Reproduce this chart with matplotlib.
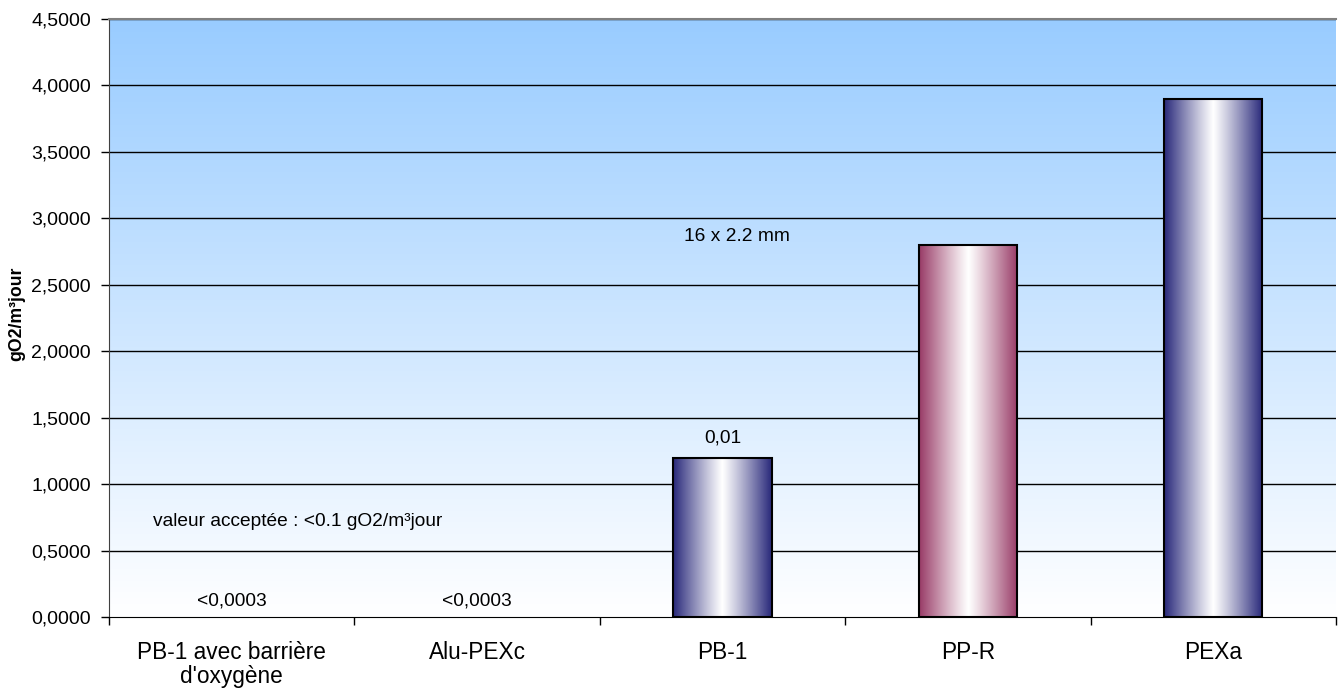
import numpy as np
import matplotlib
matplotlib.use("Agg")
import matplotlib.pyplot as plt
from matplotlib.colors import LinearSegmentedColormap, to_rgb
from matplotlib.patches import Rectangle

plt.rcParams['font.family'] = ['Liberation Sans', 'DejaVu Sans']

categories = ["PB-1 avec barrière\nd'oxygène", "Alu-PEXc", "PB-1", "PP-R", "PEXa"]
values = [0.0003, 0.0003, 1.2, 2.8, 3.9]
value_labels = ["<0,0003", "<0,0003", "0,01", "", ""]
label_y = [0.12, 0.12, 1.35, None, None]
edge_colors = ["#28287A", "#28287A", "#28287A", "#983A66", "#28287A"]
yticks = [0.0, 0.5, 1.0, 1.5, 2.0, 2.5, 3.0, 3.5, 4.0, 4.5]

W, H = 1339, 695
fig = plt.figure(figsize=(W / 100, H / 100), dpi=100)
ax = fig.add_axes([109 / W, 1 - 617 / H, (1336 - 109) / W, (617 - 19) / H])

n = len(categories)
ax.set_xlim(-0.5, n - 0.5)
ax.set_ylim(0, 4.5)

# background vertical gradient
bg = LinearSegmentedColormap.from_list("bg", ["#FFFFFF", "#99CCFF"])
grad = np.linspace(0, 1, 256).reshape(-1, 1)
ax.imshow(grad, cmap=bg, origin="lower", aspect="auto",
          extent=(-0.5, n - 0.5, 0, 4.5), zorder=0)

# gridlines
for y in yticks[1:]:
    ax.axhline(y, color="black", lw=1.0, zorder=1)

# bars with horizontal gradient
bw = 0.4
xs = np.linspace(0, 1, 300)
prof = np.abs(xs - 0.5) * 2
prof = prof ** 1.1
for i, (v, c) in enumerate(zip(values, edge_colors)):
    x0 = i - bw / 2
    if v < 0.01:
        continue
    rgb = np.array(to_rgb(c))
    img = (1 - prof)[:, None] * np.ones(3) + prof[:, None] * rgb
    img = img[None, :, :]
    ax.imshow(img, aspect="auto", extent=(x0, x0 + bw, 0, v), zorder=2,
              interpolation="bilinear")
    ax.add_patch(Rectangle((x0, 0), bw, v, fill=False, ec="black", lw=1.5, zorder=3))

for i, (lab, ly) in enumerate(zip(value_labels, label_y)):
    if lab:
        ax.text(i, ly, lab, ha="center", va="center", fontsize=13.8, zorder=4)

ax.text(2.06, 2.86, "16 x 2.2 mm", ha="center", va="center", fontsize=13.8, zorder=4)
ax.text(0.27, 0.715, "valeur acceptée : <0.1 gO2/m³jour", ha="center", va="center",
        fontsize=13.8, zorder=4)

# axes styling
ax.set_yticks(yticks)
ax.set_yticklabels([f"{t:.4f}".replace(".", ",") for t in yticks], fontsize=14)
ax.tick_params(axis="y", length=6, width=1, pad=7)
ax.set_xticks(np.arange(-0.5, n, 1.0))
ax.set_xticklabels([])
ax.tick_params(axis="x", which="major", length=6, width=1)
ax.set_xticks(np.arange(n), minor=True)
ax.set_xticklabels(categories, minor=True, fontsize=16.3, linespacing=1.1)
ax.tick_params(axis="x", which="minor", length=0, pad=17)

ax.spines["right"].set_visible(False)
ax.spines["top"].set_color("#808080")
ax.spines["top"].set_linewidth(1.5)
ax.spines["left"].set_color("#404040")
ax.spines["bottom"].set_color("black")

fig.text(17 / W, 1 - 314 / H, "gO2/m³jour", rotation=90, ha="center", va="center",
         fontsize=12.7, fontweight="bold")

fig.savefig("out.png", dpi=100)
